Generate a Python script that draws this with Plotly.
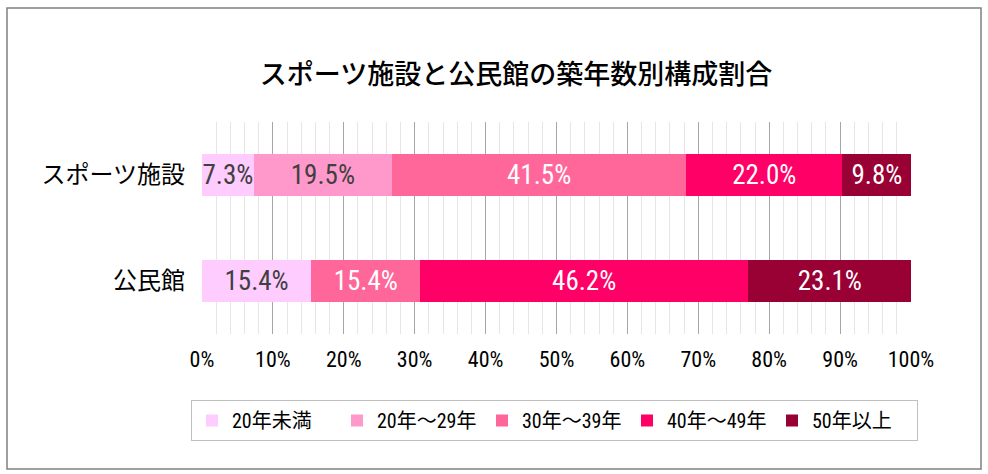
import plotly.graph_objects as go

categories = ["スポーツ施設", "公民館"]
series_names = ["20年未満", "20年～29年", "30年～39年", "40年～49年", "50年以上"]
values_sports = [7.3, 19.5, 41.5, 22.0, 9.8]
values_kominkan = [15.4, 0.0, 15.4, 46.2, 23.1]
colors = ["#FFCCFF", "#FF99CC", "#FF6699", "#FF0066", "#990033"]
label_colors = ["#404040", "#404040", "#FFFFFF", "#FFFFFF", "#FFFFFF"]
x_ticks = [0, 10, 20, 30, 40, 50, 60, 70, 80, 90, 100]

NUM_FONT = "Liberation Sans Narrow, Roboto Condensed, Noto Sans CJK JP, sans-serif"
JP_FONT = "Noto Sans CJK JP, sans-serif"

fig = go.Figure()
for i, name in enumerate(series_names):
    vals = [values_sports[i], values_kominkan[i]]
    texts = [f"{v:.1f}%" if v > 0 else "" for v in vals]
    tcolors = [label_colors[i], label_colors[i]]
    fig.add_trace(go.Bar(
        name=name,
        y=categories,
        x=vals,
        orientation="h",
        marker=dict(color=colors[i], line=dict(width=0)),
        text=texts,
        textposition="inside",
        insidetextanchor="middle",
        textangle=0,
        constraintext="none",
        textfont=dict(family=NUM_FONT, size=27, color=tcolors),
        hoverinfo="skip",
    ))

fig.update_layout(
    barmode="stack",
    bargap=0.6,
    width=988,
    height=474,
    paper_bgcolor="white",
    plot_bgcolor="white",
    margin=dict(l=202, r=77, t=122, b=140),
    title=dict(
        text="スポーツ施設と公民館の築年数別構成割合",
        font=dict(family=JP_FONT, size=27, color="#000000", weight=500),
        x=516 / 988, xanchor="center", xref="container",
        y=1 - 75 / 474, yanchor="middle", yref="container",
    ),
    xaxis=dict(
        range=[0, 100],
        tickvals=x_ticks,
        ticktext=[f"{t}%" for t in x_ticks],
        showgrid=True,
        gridcolor="#A6A6A6",
        gridwidth=1,
        minor=dict(dtick=2, showgrid=True, gridcolor="#E6E6E6", gridwidth=1),
        zeroline=False,
        showline=False,
        ticks="",
        ticklabelstandoff=10,
        tickfont=dict(family=NUM_FONT, size=22, color="#000000"),
        fixedrange=True,
    ),
    yaxis=dict(
        categoryorder="array",
        categoryarray=categories,
        autorange="reversed",
        showgrid=False,
        zeroline=False,
        showline=False,
        ticks="",
        ticklabelstandoff=16,
        tickfont=dict(family=JP_FONT, size=24, color="#000000"),
        fixedrange=True,
    ),
    legend=dict(
        orientation="h",
        xref="paper", yref="paper",
        x=(191 - 202) / 709, xanchor="left",
        y=(334 - 400) / 212, yanchor="top",
        bordercolor="#BFBFBF",
        borderwidth=1,
        bgcolor="white",
        font=dict(family=NUM_FONT, size=20, color="#000000"),
        traceorder="normal",
        entrywidth=100,
        entrywidthmode="pixels",
        itemwidth=30,
    ),
    shapes=[dict(
        type="rect", xref="paper", yref="paper",
        x0=(7 - 202) / 709, x1=(981 - 202) / 709,
        y0=(334 - 469) / 212, y1=(334 - 8) / 212,
        line=dict(color="#808080", width=1.5),
        fillcolor="rgba(0,0,0,0)",
        layer="below",
    )],
    showlegend=True,
)

fig.write_html("out.html", config={"displayModeBar": False})
